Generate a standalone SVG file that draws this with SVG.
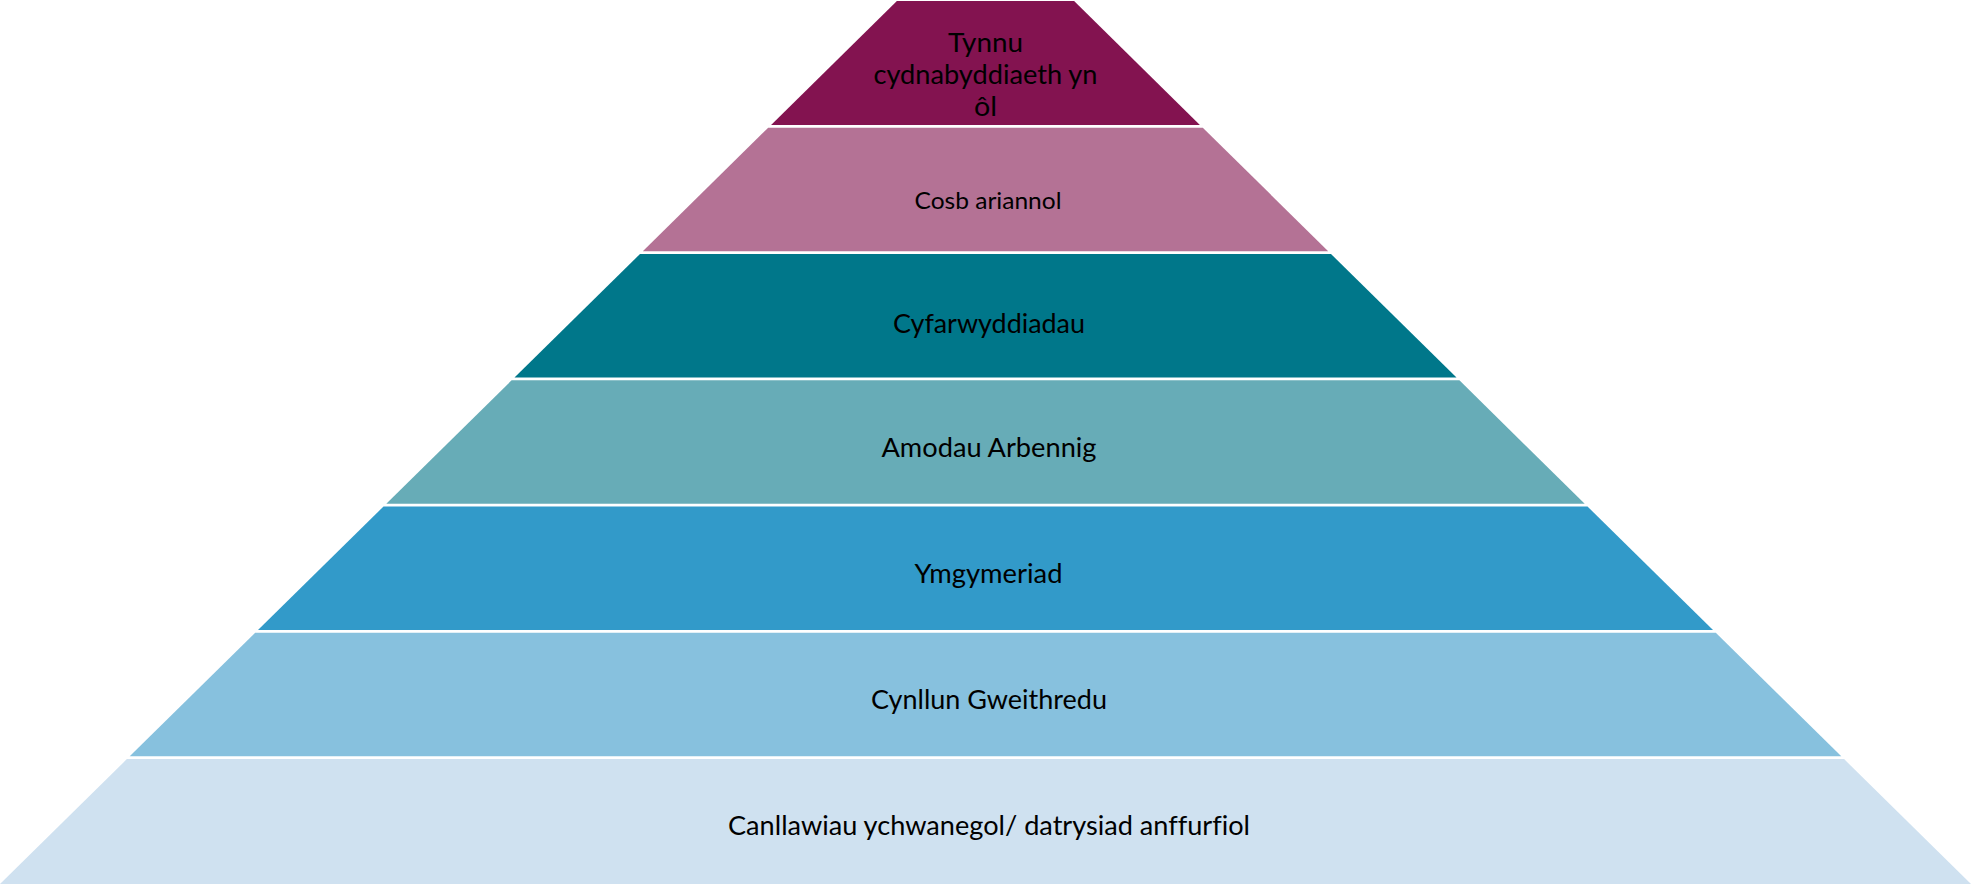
<svg xmlns="http://www.w3.org/2000/svg" width="1971" height="884" viewBox="0 0 1971 884">
  <style>
    .lbl { font-family: Lato, "Open Sans", "Liberation Sans", sans-serif; font-size: 26.5px; fill: #000000; text-anchor: middle; font-variant-ligatures: none; font-feature-settings: "liga" 0; }
    .sm { font-size: 24px; }
  </style>
  <rect x="0" y="0" width="1971" height="884" fill="#FFFFFF"/>
  <g id="level-1">
    <polygon points="896.9,1 1074.1,1 1199.9,124.9 771.1,124.9" fill="#831350"/>
    <text class="lbl" x="985.5" y="52" textLength="75" lengthAdjust="spacingAndGlyphs">Tynnu</text>
    <text class="lbl" x="985.5" y="83.5" textLength="224" lengthAdjust="spacingAndGlyphs">cydnabyddiaeth yn</text>
    <text class="lbl" x="985.5" y="115.5" textLength="23" lengthAdjust="spacingAndGlyphs">ôl</text>
  </g>
  <g id="level-2">
    <polygon points="768.2,127.7 1202.8,127.7 1328.2,251.2 642.8,251.2" fill="#B47295"/>
    <text class="lbl sm" x="988" y="208.5" textLength="147" lengthAdjust="spacingAndGlyphs">Cosb ariannol</text>
  </g>
  <g id="level-3">
    <polygon points="640,254 1331,254 1456.5,377.5 514.5,377.5" fill="#00778A"/>
    <text class="lbl" x="989" y="332.5" textLength="192" lengthAdjust="spacingAndGlyphs">Cyfarwyddiadau</text>
  </g>
  <g id="level-4">
    <polygon points="511.6,380.3 1459.4,380.3 1584.7,503.7 386.3,503.7" fill="#67ACB7"/>
    <text class="lbl" x="989" y="457" textLength="215" lengthAdjust="spacingAndGlyphs">Amodau Arbennig</text>
  </g>
  <g id="level-5">
    <polygon points="383.5,506.5 1587.5,506.5 1713,630 258,630" fill="#329AC9"/>
    <text class="lbl" x="988.5" y="582.5" textLength="148" lengthAdjust="spacingAndGlyphs">Ymgymeriad</text>
  </g>
  <g id="level-6">
    <polygon points="255.2,632.8 1715.8,632.8 1841.3,756.3 129.7,756.3" fill="#87C1DE"/>
    <text class="lbl" x="989" y="708.5" textLength="236" lengthAdjust="spacingAndGlyphs">Cynllun Gweithredu</text>
  </g>
  <g id="level-7">
    <polygon points="126.9,759.1 1844.1,759.1 1971,884 0,884" fill="#CFE1F0"/>
    <text class="lbl" x="989" y="835" textLength="522" lengthAdjust="spacingAndGlyphs">Canllawiau ychwanegol/ datrysiad anffurfiol</text>
  </g>
  <g id="connectors"/>
</svg>
